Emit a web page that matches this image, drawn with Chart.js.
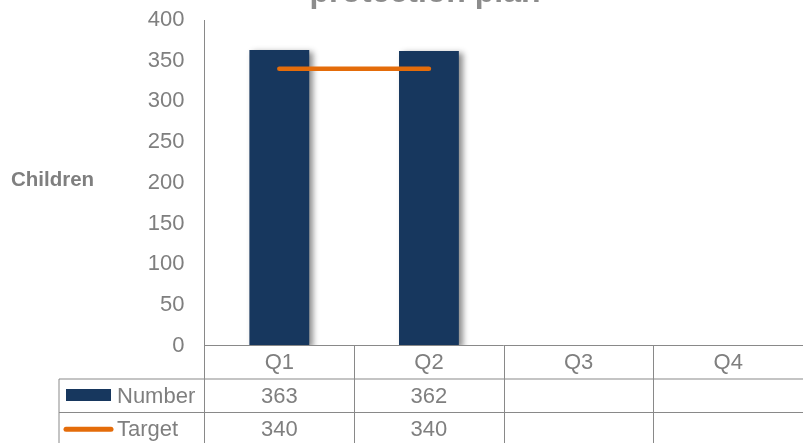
<!DOCTYPE html>
<html>
<head>
<meta charset="utf-8">
<script src="https://cdn.jsdelivr.net/npm/chart.js@4/dist/chart.umd.min.js"></script>
<style>
  html, body { margin: 0; padding: 0; background: #fff; }
  #chart { display: block; }
</style>
</head>
<body>
<canvas id="chart" width="803" height="443"></canvas>
<script>
// quarters shown along the bottom of the chart / table
const quarters = ["Q1", "Q2", "Q3", "Q4"];

// children on a protection plan, per quarter (blank = not reported yet)
const numberValues = [363, 362, null, null];

// target for each quarter
const targetValues = [340, 340, null, null];

const seriesNames = ["Number", "Target"];

const navy = "#17375E";
const orange = "#E46C0A";
const grey = "#7F7F7F";
const lineGrey = "#898989";
const font = "Liberation Sans, Arial, sans-serif";

// soft drop shadow behind the bars only
const barShadow = {
  id: "barShadow",
  beforeDatasetDraw(chart, args) {
    if (args.index !== 0) return;
    const ctx = chart.ctx;
    ctx.save();
    ctx.shadowColor = "rgba(0,0,0,0.45)";
    ctx.shadowBlur = 6;
    ctx.shadowOffsetX = 4;
    ctx.shadowOffsetY = 2;
  },
  afterDatasetDraw(chart, args) {
    if (args.index !== 0) return;
    chart.ctx.restore();
  },
};

// title, axis caption and the data table under the plot
const tableAndText = {
  id: "tableAndText",
  afterDraw(chart) {
    const ctx = chart.ctx;
    const area = chart.chartArea;
    const x = chart.scales.x;
    const rowH = 33.5;
    const top = area.bottom;
    const row1 = top + rowH;
    const row2 = row1 + rowH;
    const row3 = row2 + rowH;
    const tableLeft = 59;

    ctx.save();

    // title (first line sits above the canvas)
    ctx.fillStyle = "#8C8C8C";
    ctx.font = "bold 32px " + font;
    ctx.textAlign = "center";
    ctx.textBaseline = "alphabetic";
    ctx.fillText("protection plan", 425, 2);

    // y axis caption
    ctx.fillStyle = grey;
    ctx.font = "bold 20.5px " + font;
    ctx.textAlign = "left";
    ctx.fillText("Children", 11, 186);

    // grid lines of the table
    ctx.strokeStyle = lineGrey;
    ctx.lineWidth = 1;
    ctx.beginPath();
    ctx.moveTo(area.left, top);
    ctx.lineTo(chart.width, top);
    ctx.moveTo(tableLeft, row1);
    ctx.lineTo(chart.width, row1);
    ctx.moveTo(tableLeft, row2);
    ctx.lineTo(chart.width, row2);
    ctx.moveTo(area.left, top);
    ctx.lineTo(area.left, row3);
    ctx.moveTo(tableLeft, row1);
    ctx.lineTo(tableLeft, row3);
    const step = x.getPixelForValue(1) - x.getPixelForValue(0);
    for (let i = 1; i < quarters.length; i++) {
      const bx = Math.round(x.getPixelForValue(i) - step / 2) + 0.5;
      ctx.moveTo(bx, top);
      ctx.lineTo(bx, row3);
    }
    ctx.stroke();

    // cells
    ctx.fillStyle = grey;
    ctx.font = "22px " + font;
    ctx.textAlign = "center";
    ctx.textBaseline = "middle";
    quarters.forEach((q, i) => {
      const cx = x.getPixelForValue(i);
      ctx.fillText(q, cx, (top + row1) / 2 + 1);
      if (numberValues[i] != null) ctx.fillText(String(numberValues[i]), cx, (row1 + row2) / 2 + 1);
      if (targetValues[i] != null) ctx.fillText(String(targetValues[i]), cx, (row2 + row3) / 2 + 1);
    });

    // row keys
    ctx.fillStyle = navy;
    ctx.fillRect(66, row1 + 10, 45, 12);
    ctx.strokeStyle = orange;
    ctx.lineWidth = 5;
    ctx.lineCap = "round";
    ctx.beginPath();
    ctx.moveTo(66, (row2 + row3) / 2);
    ctx.lineTo(111, (row2 + row3) / 2);
    ctx.stroke();

    ctx.fillStyle = grey;
    ctx.textAlign = "left";
    ctx.fillText(seriesNames[0], 117, (row1 + row2) / 2 + 1);
    ctx.fillText(seriesNames[1], 117, (row2 + row3) / 2 + 1);

    ctx.restore();
  },
};

new Chart(document.getElementById("chart"), {
  type: "bar",
  data: {
    labels: quarters,
    datasets: [
      {
        label: seriesNames[0],
        data: numberValues,
        backgroundColor: navy,
        barPercentage: 0.4,
        categoryPercentage: 1,
        order: 1,
      },
      {
        type: "line",
        label: seriesNames[1],
        data: targetValues,
        borderColor: orange,
        borderWidth: 4.5,
        borderCapStyle: "round",
        pointRadius: 0,
        spanGaps: false,
        order: 0,
      },
    ],
  },
  options: {
    responsive: false,
    animation: false,
    devicePixelRatio: 1,
    layout: { padding: { top: 20, bottom: 97.5, left: 0, right: -4 } },
    plugins: {
      legend: { display: false },
      tooltip: { enabled: false },
      title: { display: false },
    },
    scales: {
      x: { display: false },
      y: {
        min: 0,
        max: 400,
        ticks: {
          stepSize: 50,
          color: grey,
          font: { family: font, size: 22 },
          padding: 20,
        },
        grid: { display: false, drawTicks: false },
        border: { display: true, color: lineGrey, width: 1 },
        afterFit(scale) {
          scale.width = 204.5;
          scale.paddingTop = 0;
          scale.paddingBottom = 0;
        },
      },
    },
  },
  plugins: [barShadow, tableAndText],
});
</script>
</body>
</html>
